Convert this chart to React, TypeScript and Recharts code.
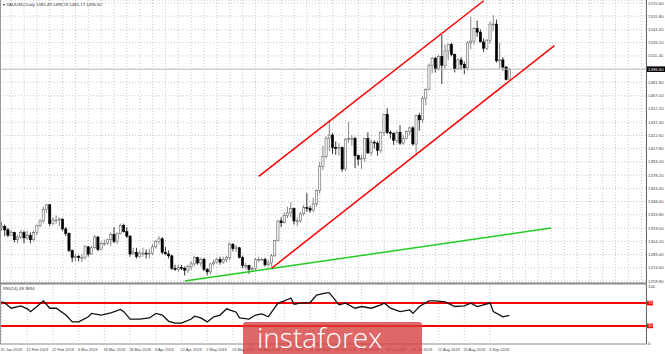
import React from 'react';
import { ComposedChart, Bar, Line, XAxis, YAxis, CartesianGrid, ReferenceLine } from 'recharts';

// XAUUSD daily, 31 Jan 2019 .. 11 Sep 2019 — [open, high, low, close]
const candles: [number, number, number, number][] = [
  [1319, 1326, 1316, 1321], [1321, 1323, 1310, 1317], [1317, 1319, 1309, 1311], [1311, 1317, 1310, 1314], [1314, 1315, 1303, 1306],
  [1306, 1311, 1302, 1309], [1309, 1317, 1307, 1314], [1314, 1316, 1302, 1308], [1308, 1316, 1306, 1311], [1311, 1314, 1302, 1306],
  [1306, 1316, 1304, 1314], [1314, 1323, 1311, 1322], [1322, 1329, 1320, 1327], [1327, 1343, 1325, 1340], [1340, 1346, 1336, 1345],
  [1345, 1346, 1321, 1324], [1324, 1331, 1322, 1328], [1328, 1333, 1324, 1328], [1328, 1331, 1321, 1329], [1329, 1330, 1316, 1318],
  [1318, 1320, 1310, 1313], [1313, 1314, 1292, 1294], [1294, 1295, 1281, 1286], [1286, 1290, 1282, 1287], [1287, 1289, 1282, 1286],
  [1286, 1290, 1281, 1286], [1286, 1300, 1284, 1298], [1298, 1299, 1287, 1290], [1290, 1299, 1289, 1297], [1297, 1311, 1296, 1309],
  [1309, 1310, 1293, 1295], [1295, 1304, 1294, 1302], [1302, 1306, 1299, 1302], [1302, 1307, 1300, 1306], [1306, 1314, 1299, 1312],
  [1312, 1320, 1302, 1304], [1304, 1314, 1301, 1313], [1313, 1324, 1312, 1322], [1322, 1324, 1314, 1315], [1315, 1320, 1308, 1310],
  [1310, 1311, 1287, 1290], [1290, 1297, 1289, 1292], [1292, 1297, 1285, 1287], [1287, 1294, 1286, 1291], [1291, 1297, 1287, 1291],
  [1291, 1295, 1285, 1290], [1290, 1296, 1285, 1291], [1291, 1301, 1289, 1298], [1298, 1306, 1296, 1304], [1304, 1310, 1301, 1307],
  [1307, 1309, 1290, 1292], [1292, 1298, 1290, 1290], [1290, 1294, 1285, 1288], [1288, 1289, 1272, 1274], [1274, 1278, 1271, 1273],
  [1273, 1278, 1270, 1275], [1275, 1278, 1272, 1274], [1274, 1276, 1266, 1272], [1272, 1278, 1269, 1276], [1276, 1282, 1272, 1279],
  [1279, 1288, 1276, 1286], [1286, 1287, 1278, 1280], [1280, 1286, 1276, 1284], [1284, 1286, 1271, 1273], [1273, 1274, 1266, 1270],
  [1270, 1280, 1267, 1279], [1279, 1284, 1277, 1281], [1281, 1286, 1279, 1284], [1284, 1287, 1278, 1281], [1281, 1287, 1279, 1284],
  [1284, 1288, 1281, 1286], [1286, 1303, 1283, 1301], [1301, 1302, 1293, 1296], [1296, 1300, 1292, 1297], [1297, 1298, 1285, 1286],
  [1286, 1288, 1274, 1277], [1277, 1280, 1273, 1277], [1277, 1278, 1268, 1273], [1273, 1276, 1270, 1274], [1274, 1286, 1272, 1284],
  [1284, 1287, 1281, 1284], [1284, 1286, 1282, 1284], [1284, 1286, 1276, 1278], [1278, 1283, 1276, 1280], [1280, 1290, 1276, 1288],
  [1288, 1306, 1287, 1305], [1305, 1328, 1304, 1327], [1327, 1331, 1320, 1325], [1325, 1337, 1324, 1333], [1333, 1343, 1330, 1336],
  [1336, 1348, 1331, 1341], [1341, 1342, 1323, 1327], [1327, 1331, 1321, 1327], [1327, 1337, 1325, 1335], [1335, 1345, 1333, 1342],
  [1342, 1358, 1337, 1341], [1341, 1344, 1336, 1339], [1339, 1353, 1337, 1346], [1346, 1362, 1343, 1361], [1361, 1393, 1358, 1388],
  [1388, 1411, 1384, 1399], [1399, 1422, 1397, 1419], [1419, 1439, 1405, 1423], [1423, 1425, 1402, 1409], [1409, 1416, 1401, 1408],
  [1408, 1414, 1400, 1409], [1409, 1410, 1382, 1385], [1385, 1419, 1383, 1418], [1418, 1438, 1414, 1419], [1419, 1423, 1411, 1419],
  [1419, 1421, 1386, 1400], [1400, 1401, 1389, 1396], [1396, 1401, 1385, 1397], [1397, 1420, 1393, 1419], [1419, 1426, 1402, 1403],
  [1403, 1418, 1400, 1415], [1415, 1417, 1408, 1414], [1414, 1416, 1400, 1406], [1406, 1427, 1403, 1426], [1426, 1447, 1422, 1446],
  [1446, 1453, 1424, 1426], [1426, 1428, 1419, 1425], [1425, 1426, 1412, 1417], [1417, 1428, 1414, 1426], [1426, 1434, 1412, 1414],
  [1414, 1423, 1412, 1419], [1419, 1428, 1418, 1427], [1427, 1432, 1423, 1431], [1431, 1433, 1411, 1413], [1413, 1446, 1400, 1445],
  [1445, 1448, 1428, 1440], [1440, 1466, 1437, 1464], [1464, 1475, 1456, 1474], [1474, 1503, 1473, 1501], [1501, 1510, 1492, 1509],
  [1509, 1510, 1493, 1497], [1497, 1513, 1495, 1511], [1511, 1535, 1480, 1501], [1501, 1524, 1497, 1517], [1517, 1525, 1507, 1524],
  [1524, 1526, 1511, 1513], [1513, 1514, 1493, 1497], [1497, 1509, 1496, 1507], [1507, 1510, 1496, 1502], [1502, 1505, 1491, 1498],
  [1498, 1528, 1495, 1526], [1526, 1555, 1519, 1528], [1528, 1543, 1524, 1542], [1542, 1551, 1533, 1538], [1538, 1541, 1527, 1527],
  [1527, 1531, 1516, 1520], [1520, 1530, 1518, 1529], [1529, 1550, 1525, 1547], [1547, 1557, 1539, 1547], [1547, 1552, 1504, 1506],
  [1506, 1526, 1497, 1507], [1507, 1510, 1495, 1499], [1499, 1500, 1484, 1485], [1485.49, 1498.28, 1485.17, 1496.6],
];

// RSI(14) — [bar, value]
const rsiPoints: [number, number][] = [
  [0, 72], [1, 70], [3, 61], [6, 65], [8, 60], [9, 55], [11, 64], [13, 74], [15, 61], [17, 61],
  [20, 49], [22, 37], [24, 37], [27, 46], [28, 52], [31, 49], [34, 53], [37, 59], [38, 55], [40, 42],
  [43, 42], [46, 44], [48, 52], [50, 49], [52, 38], [54, 35], [56, 35], [59, 42], [60, 47], [62, 44],
  [64, 37], [66, 46], [68, 49], [70, 60], [73, 54], [74, 44], [77, 42], [79, 49], [81, 51], [83, 46],
  [84, 54], [86, 70], [88, 74], [90, 79], [91, 68], [93, 70], [96, 71], [98, 84], [101, 88], [102, 88],
  [105, 67], [107, 70], [110, 61], [112, 64], [115, 61], [118, 67], [119, 70], [121, 61], [124, 55], [127, 58],
  [128, 52], [130, 64], [133, 74], [135, 74], [138, 72], [141, 64], [144, 65], [146, 70], [148, 64], [152, 70],
  [153, 55], [156, 46], [158, 48.39],
];

const priceTicks = [
  1570.6, 1555.8, 1541.0, 1526.2, 1511.4, 1496.6, 1481.8, 1467.0, 1452.2, 1437.4, 1422.6,
  1407.8, 1393.0, 1378.2, 1363.4, 1348.6, 1333.8, 1319.0, 1304.2, 1289.4, 1274.6, 1259.8,
];
const rsiTicks = [0, 30, 70, 100];
const labelBars = [0, 8, 16, 24, 32, 40, 48, 56, 64, 72, 80, 88, 96, 104, 112, 120, 128, 136, 144, 152];
const dateLabels = [
  '31 Jan 2019', '12 Feb 2019', '22 Feb 2019', '6 Mar 2019', '18 Mar 2019', '28 Mar 2019', '9 Apr 2019',
  '22 Apr 2019', '2 May 2019', '14 May 2019', '24 May 2019', '5 Jun 2019', '17 Jun 2019', '27 Jun 2019',
  '9 Jul 2019', '19 Jul 2019', '31 Jul 2019', '12 Aug 2019', '22 Aug 2019', '3 Sep 2019',
];

// hand-drawn trend lines: [bar, price]
const channelTop: [number, number][] = [[80, 1376.7], [150, 1573.1]];
const channelBottom: [number, number][] = [[84, 1274.1], [172, 1523.0]];
const supportLine: [number, number][] = [[57, 1259.8], [171, 1319.0]];

const LAST_PRICE = 1496.6;
const PRICE_DOMAIN: [number, number] = [1257.6, 1573.95];
const SLOTS = 201; // bars + empty space on the right
const FONT = '"Liberation Sans", Arial, sans-serif';

const rows = Array.from({ length: SLOTS }, (_, i) => {
  const cd = candles[i];
  const r = rsiPoints.find(p => p[0] === i);
  return {
    i,
    o: cd ? cd[0] : null, h: cd ? cd[1] : null, l: cd ? cd[2] : null, c: cd ? cd[3] : null,
    range: cd ? [cd[2], cd[1]] : null,
    rsi: r ? r[1] : null,
  };
});

const gridBars = Array.from({ length: 50 }, (_, k) => 3 + k * 4);

const Candle = (props: any) => {
  const { x, y, width, height, payload } = props;
  if (!payload || payload.o == null) return null;
  const { o, h, l, c } = payload;
  const top = Math.min(y, y + height);
  const span = Math.abs(height);
  const k = h === l ? 0 : span / (h - l);
  const yO = top + (h - o) * k;
  const yC = top + (h - c) * k;
  const cx = x + width / 2;
  const bull = c >= o;
  const col = bull ? '#6a6a6a' : '#000';
  return (
    <g>
      <line x1={cx} x2={cx} y1={top} y2={top + span} stroke={col} strokeWidth={0.8} />
      <rect x={cx - 1.1} y={Math.min(yO, yC)} width={2.2} height={Math.max(0.8, Math.abs(yO - yC))}
        fill={bull ? '#f4f4f4' : '#000'} stroke={col} strokeWidth={0.6} />
    </g>
  );
};

const PriceTick = ({ x, y, payload }: any) => {
  const v = payload.value;
  if (Math.abs(v - LAST_PRICE) < 0.01) {
    return (
      <g>
        <rect x={x - 1} y={y - 2.8} width={18} height={5.6} fill="#000" />
        <text x={x} y={y} dy="0.35em" fontSize={4.3} fill="#fff" fontFamily={FONT}>{v.toFixed(2)}</text>
      </g>
    );
  }
  return <text x={x} y={y} dy="0.35em" fontSize={4.3} fill="#444" fontFamily={FONT}>{v.toFixed(2)}</text>;
};

const RsiTick = ({ x, y, payload }: any) => {
  const v = payload.value;
  if (v === 70 || v === 30) {
    return (
      <g>
        <rect x={x - 1} y={y - 2.3} width={6} height={4.6} fill="#ff0000" />
        <text x={x + 0.3} y={y} dy="0.35em" fontSize={3.8} fill="#fff" fontFamily={FONT}>{v}</text>
      </g>
    );
  }
  return <text x={x} y={y} dy="0.35em" fontSize={4.3} fill="#444" fontFamily={FONT}>{v}</text>;
};

const DateTick = ({ x, y, payload }: any) => {
  const idx = labelBars.indexOf(payload.value);
  if (idx < 0) return null;
  return <text x={x - 1} y={y + 5.5} fontSize={3.9} fill="#444" fontFamily={FONT}>{dateLabels[idx]}</text>;
};

const seg = (p: [number, number][]) => p.map(([x, y]) => ({ x, y }));

export default function App() {
  return (
    <div style={{ position: 'absolute', left: 0, top: 0, width: 665, height: 354, background: '#fff', overflow: 'hidden', fontFamily: FONT }}>
      {/* price panel */}
      <div style={{ position: 'absolute', left: 0, top: 0 }}>
        <ComposedChart width={665} height={283} data={rows} margin={{ top: 0, right: 0, bottom: 0, left: 0 }}>
          <CartesianGrid stroke="#c8c8c8" strokeDasharray="1 2" />
          <XAxis dataKey="i" type="category" scale="band" hide ticks={gridBars} interval={0} />
          <YAxis orientation="right" type="number" domain={PRICE_DOMAIN} allowDataOverflow ticks={priceTicks}
            interval={0} width={19} axisLine={false} tickLine={false} tickSize={0} tick={<PriceTick />} />
          <ReferenceLine y={LAST_PRICE} stroke="#bdbdbd" strokeWidth={1} />
          <Bar dataKey="range" barSize={3} shape={<Candle />} isAnimationActive={false} />
          <ReferenceLine segment={seg(supportLine)} stroke="#22cc22" strokeWidth={1.5} ifOverflow="visible" />
          <ReferenceLine segment={seg(channelTop)} stroke="#ff0000" strokeWidth={1.5} ifOverflow="visible" />
          <ReferenceLine segment={seg(channelBottom)} stroke="#ff0000" strokeWidth={1.5} ifOverflow="visible" />
        </ComposedChart>
      </div>

      {/* RSI panel */}
      <div style={{ position: 'absolute', left: 0, top: 284 }}>
        <ComposedChart width={665} height={70} data={rows} margin={{ top: 2, right: 0, bottom: 0, left: 0 }}>
          <CartesianGrid stroke="#c8c8c8" strokeDasharray="1 2" horizontal={false} />
          <XAxis dataKey="i" type="category" scale="band" ticks={labelBars} interval={0} height={11}
            axisLine={false} tickLine={false} tickSize={0} tick={<DateTick />} />
          <YAxis orientation="right" type="number" domain={[0, 100]} ticks={rsiTicks} interval={0} width={19}
            axisLine={false} tickLine={false} tickSize={0} tick={<RsiTick />} />
          <ReferenceLine y={70} stroke="#ff0000" strokeWidth={2} />
          <ReferenceLine y={30} stroke="#ff0000" strokeWidth={2} />
          <Line dataKey="rsi" stroke="#111" strokeWidth={1.3} dot={false} connectNulls isAnimationActive={false} />
        </ComposedChart>
      </div>

      {/* frame and captions */}
      <svg width={665} height={354} style={{ position: 'absolute', left: 0, top: 0, pointerEvents: 'none' }}>
        <line x1={0.5} x2={0.5} y1={0} y2={344} stroke="#9a9a9a" />
        <line x1={646.5} x2={646.5} y1={0} y2={344} stroke="#666" />
        <line x1={0} x2={647} y1={283.5} y2={283.5} stroke="#8a8a8a" strokeWidth={2} />
        <line x1={0} x2={647} y1={344} y2={344} stroke="#8a8a8a" />
        <text x={3} y={5.5} fontSize={4.3} fill="#333" fontFamily={FONT}>▾ XAUUSD,Daily  1485.49 1498.28 1485.17 1496.60</text>
        <text x={3} y={290} fontSize={4.3} fill="#333" fontFamily={FONT}>RSI(14) 48.3894</text>
      </svg>

      {/* watermark */}
      <div style={{
        position: 'absolute', left: 243, top: 322, width: 179, height: 40,
        background: 'rgba(214, 60, 60, 0.78)', borderRadius: 3,
      }}>
        <span style={{
          position: 'absolute', left: 14, top: 1, lineHeight: '28px', fontSize: 28,
          fontFamily: '"Open Sans", sans-serif', fontWeight: 300, color: '#fff',
        }}>instaforex</span>
      </div>
    </div>
  );
}
